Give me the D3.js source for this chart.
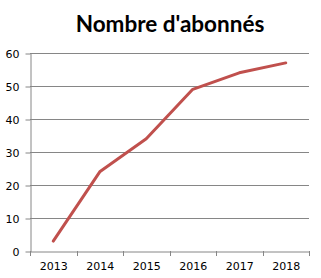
<!DOCTYPE html>
<html><head><meta charset="utf-8">
<script src="https://cdn.jsdelivr.net/npm/d3@7"></script>
<style>body{margin:0;background:#fff}svg{display:block}</style>
</head><body>
<script>
const years = ["2013","2014","2015","2016","2017","2018"];
const subscribers = [3, 24, 34, 49, 54, 57];
const yTicks = [0,10,20,30,40,50,60];
const title = "Nombre d'abonnés";

const W=321,H=278;
const svg=d3.select("body").append("svg").attr("width",W).attr("height",H);
const x=d3.scaleBand().domain(years).range([30,309]);
const y=d3.scaleLinear().domain([0,60]).range([251,53]);

svg.append("text").attr("x",170).attr("y",32).attr("text-anchor","middle")
  .attr("font-family","Lato, 'Open Sans', sans-serif").attr("font-weight","bold")
  .attr("font-size",22.5).attr("fill","#000").text(title);

// gridlines
svg.append("g").selectAll("line").data(yTicks.filter(d=>d>0)).join("line")
  .attr("x1",30).attr("x2",309).attr("y1",d=>y(d)+0.5).attr("y2",d=>y(d)+0.5)
  .attr("stroke","#868686").attr("stroke-width",1);

const yAxis=svg.append("g").attr("transform","translate(30.5,0.5)")
  .call(d3.axisLeft(y).tickValues(yTicks).tickSize(5).tickSizeOuter(0).tickPadding(6));
yAxis.select(".domain").attr("stroke","#868686");
yAxis.selectAll(".tick line").attr("stroke","#868686");
yAxis.selectAll("text").attr("font-family","'DejaVu Sans', sans-serif").attr("font-size",11).attr("fill","#000").attr("text-anchor","end");

const xAxis=svg.append("g").attr("transform","translate(0.5,251.5)")
  .call(d3.axisBottom(x).tickSize(0).tickPadding(11).tickSizeOuter(0));
xAxis.select(".domain").attr("stroke","#868686");
xAxis.selectAll("text").attr("font-family","'DejaVu Sans', sans-serif").attr("font-size",11).attr("fill","#000");
// boundary tick marks
const bounds=years.map(d=>x(d)).concat([x(years[years.length-1])+x.bandwidth()]);
svg.append("g").selectAll("line").data(bounds).join("line")
  .attr("x1",d=>Math.round(d)+0.5).attr("x2",d=>Math.round(d)+0.5).attr("y1",251).attr("y2",256)
  .attr("stroke","#868686");

const line=d3.line().x((d,i)=>x(years[i])+x.bandwidth()/2).y(d=>y(d));
svg.append("path").datum(subscribers).attr("d",line).attr("fill","none")
  .attr("stroke","#c0504d").attr("stroke-width",3).attr("stroke-linejoin","round").attr("stroke-linecap","round");
</script>
</body></html>
